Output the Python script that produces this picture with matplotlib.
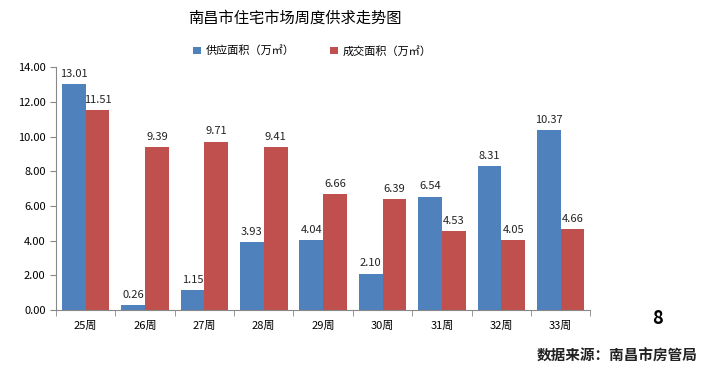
import numpy as np
import matplotlib
matplotlib.use('Agg')
import matplotlib.pyplot as plt

plt.rcParams['font.family'] = ['Noto Sans CJK SC', 'DejaVu Sans']

weeks = ['25周', '26周', '27周', '28周', '29周', '30周', '31周', '32周', '33周']
supply = [13.01, 0.26, 1.15, 3.93, 4.04, 2.10, 6.54, 8.31, 10.37]
deal = [11.51, 9.39, 9.71, 9.41, 6.66, 6.39, 4.53, 4.05, 4.66]
series_names = ['供应面积（万㎡）', '成交面积（万㎡）']
colors = ['#4F81BD', '#C0504D']

fig = plt.figure(figsize=(7.05, 3.69), dpi=100)
ax = fig.add_axes([0.0794, 0.160, 0.758, 0.658])

x = np.arange(len(weeks))
w = 0.4
b1 = ax.bar(x - w / 2, supply, w, color=colors[0], label=series_names[0])
b2 = ax.bar(x + w / 2, deal, w, color=colors[1], label=series_names[1])

for bars, vals in ((b1, supply), (b2, deal)):
    for r, v in zip(bars, vals):
        ax.text(r.get_x() + r.get_width() / 2, v + 0.3, '%.2f' % v,
                ha='center', va='bottom', fontsize=8, color='#222222')

ax.set_xlim(-0.5, len(weeks) - 0.5)
ax.set_ylim(0, 14)
ax.set_yticks(np.arange(0, 14.01, 2))
ax.set_yticklabels(['%.2f' % t for t in np.arange(0, 14.01, 2)], fontsize=8)
ax.set_xticks(x)
ax.set_xticklabels(weeks, fontsize=8)
ax.set_xticks(np.arange(-0.5, len(weeks)), minor=True)
ax.tick_params(axis='x', which='major', length=0, pad=8)
ax.tick_params(axis='x', which='minor', length=4, color='#888888')
ax.tick_params(axis='y', length=4, color='#888888')
for s in ('top', 'right'):
    ax.spines[s].set_visible(False)
for s in ('left', 'bottom'):
    ax.spines[s].set_color('#888888')

fig.text(0.418, 0.95, '南昌市住宅市场周度供求走势图', ha='center', va='center', fontsize=11)
fig.legend(loc='center', bbox_to_anchor=(0.443, 0.862), ncol=2, frameon=False,
           fontsize=8, handlelength=0.7, handleheight=0.7, handletextpad=0.4,
           columnspacing=3.2)

fig.text(0.932, 0.138, '8', ha='center', va='center', fontsize=13, fontweight='bold')
fig.text(0.99, 0.035, '数据来源：南昌市房管局', ha='right', va='center', fontsize=10.5,
         fontweight='bold', color='#222222')

fig.savefig('out.png', dpi=100)
